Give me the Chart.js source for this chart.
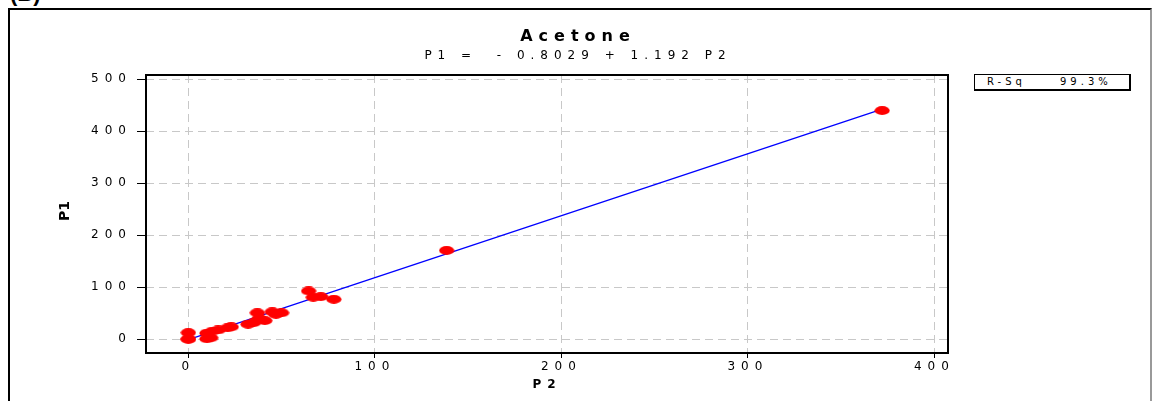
<!DOCTYPE html>
<html><head><meta charset="utf-8">
<script src="https://cdn.jsdelivr.net/npm/chart.js@4/dist/chart.umd.min.js"></script>
<style>
html,body{margin:0;padding:0;background:#fff;}
body{width:1156px;height:401px;overflow:hidden;position:relative;font-family:'DejaVu Sans',Verdana,sans-serif;}
#frame{position:absolute;left:8px;top:8px;width:1140px;height:420px;border-left:2px solid #000;border-top:2px solid #000;border-right:2px solid #999;}
#tag{position:absolute;left:10px;top:-17px;font:bold 22px 'Liberation Sans',Arial,sans-serif;line-height:22px;white-space:nowrap;}
#rsq{position:absolute;left:974px;top:74px;width:154px;height:14px;border:1px solid #000;border-right:2px solid #000;border-bottom:2px solid #000;font-size:10px;letter-spacing:4px;line-height:14px;color:#000;}
#rsq .k{position:absolute;left:12px;top:0;}
#rsq .v{position:absolute;left:85px;top:0;}
canvas{position:absolute;left:0;top:0;}
</style></head>
<body>
<div id="frame"></div>
<div id="tag">(B)</div>
<div id="rsq"><span class="k">R-Sq</span><span class="v">99.3%</span></div>
<canvas id="c" width="1156" height="401"></canvas>
<script>
const xTicks=[0,100,200,300,400];
const yTicks=[0,100,200,300,400,500];
const p2=[0,0,0,10,10,12,13,16,21,23,32,35,37,38,41,45,47,50,64.5,67,71,78,138.5,372];
const p1=[13,1,0,12,1,3,16,18,22,24,29,32,51,40,36,53,48,51,93,81,82,77,171,440];
const fitX=[0,372];
const fitY=[-0.8,442.6];
const titleText='Acetone';
const subtitleText='P1 =  - 0.8029 + 1.192 P2';
const xTitle='P2';
const yTitle='P1';

const FF="'DejaVu Sans', Verdana, sans-serif";

// ellipse marker
const mk=document.createElement('canvas');
mk.width=16;mk.height=9;
{const g=mk.getContext('2d');g.fillStyle='#ff0000';g.beginPath();g.ellipse(8,4.5,7.6,4.4,0,0,Math.PI*2);g.fill();}

const spacing={id:'spacing',beforeDraw(c){c.ctx.letterSpacing='6px';},afterDraw(c){c.ctx.letterSpacing='0px';}};
const frame={id:'frame',afterDraw(c){
  const a=c.chartArea,g=c.ctx;
  g.save();g.strokeStyle='#000';g.lineWidth=2;g.setLineDash([]);
  g.strokeRect(a.left,a.top,a.right-a.left,a.bottom-a.top);
  // y-axis title, drawn without letter spacing
  g.letterSpacing='0px';
  g.fillStyle='#000';g.font="bold 14px "+FF;g.textAlign='center';g.textBaseline='middle';
  g.translate(65,(a.top+a.bottom)/2-3);g.rotate(-Math.PI/2);g.fillText(yTitle,0,0);
  g.restore();}};

const tickFont={family:FF,size:12};
new Chart(document.getElementById('c'),{
  data:{datasets:[
    {type:'scatter',data:p2.map((x,i)=>({x:x,y:p1[i]})),pointStyle:mk,pointRadius:7,xAxisID:'x',yAxisID:'y'},
    {type:'line',data:fitX.map((x,i)=>({x:x,y:fitY[i]})),borderColor:'#0000ff',borderWidth:1.3,pointRadius:0,tension:0,fill:false,xAxisID:'x',yAxisID:'y'}
  ]},
  options:{
    responsive:false,animation:false,devicePixelRatio:1,
    layout:{padding:0},
    plugins:{
      legend:{display:false},tooltip:{enabled:false},
      title:{display:true,text:titleText,color:'#000',font:{family:FF,size:16,weight:'bold',lineHeight:1},padding:{top:29.2,bottom:0}},
      subtitle:{display:true,text:subtitleText,color:'#000',font:{family:FF,size:12,lineHeight:1},padding:{top:4.3,bottom:13.5}}
    },
    scales:{
      x:{type:'linear',position:'bottom',min:-22.7,max:407.3,
        afterBuildTicks:s=>{s.ticks=xTicks.map(v=>({value:v}));},
        afterFit:s=>{s.height=48;},
        grid:{color:'#c8c8c8',lineWidth:1,drawTicks:true,tickLength:5,tickColor:'#000',tickWidth:1},
        border:{display:false,dash:[8,5]},
        ticks:{color:'#000',font:tickFont,padding:2,maxRotation:0,autoSkip:false},
        title:{display:true,text:xTitle,color:'#000',font:{family:FF,size:12,weight:'bold'},padding:{top:0,bottom:8.8}}
      },
      y:{type:'linear',position:'left',min:-26.3,max:508.3,
        afterBuildTicks:s=>{s.ticks=yTicks.map(v=>({value:v}));},
        afterFit:s=>{s.width=146;},
        grid:{color:'#c8c8c8',lineWidth:1,drawTicks:true,tickLength:9,tickColor:'#000',tickWidth:1},
        border:{display:false,dash:[8,5]},
        ticks:{color:'#000',font:tickFont,padding:5,autoSkip:false},
        title:{display:false}
      },
      yR:{type:'linear',position:'right',display:true,grid:{display:false},border:{display:false},ticks:{display:false},
        afterFit:s=>{s.width=208;}}
    }
  },
  plugins:[spacing,frame]
});
</script>
</body></html>
